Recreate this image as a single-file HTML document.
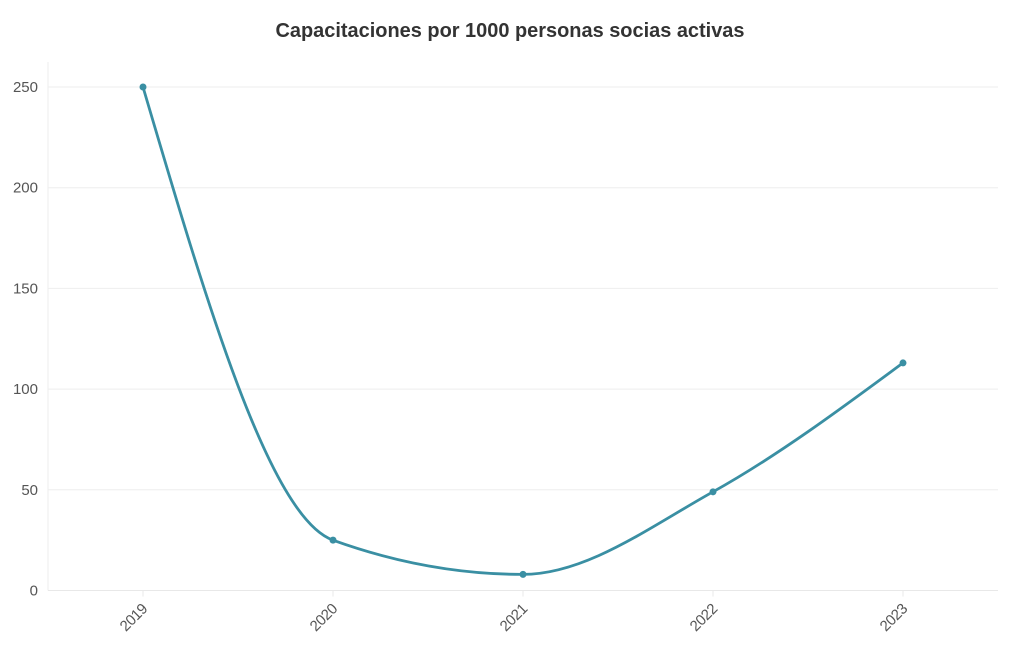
<!DOCTYPE html>
<html lang="es">
<head>
<meta charset="utf-8">
<title>Capacitaciones por 1000 personas socias activas</title>
<style>
html,body{margin:0;padding:0;background:#fff;}
#chart{display:block;width:1020px;height:650px;font-family:"Liberation Sans",sans-serif;}
</style>
</head>
<body>
<svg id="chart" width="1020" height="650" viewBox="0 0 1020 650" xmlns="http://www.w3.org/2000/svg">
<rect x="0" y="0" width="1020" height="650" fill="#ffffff"/>
<text x="510" y="37" text-anchor="middle" font-size="20" font-weight="700" fill="#333333" textLength="469" lengthAdjust="spacingAndGlyphs">Capacitaciones por 1000 personas socias activas</text>
<g id="grid"></g>
<g id="axes"></g>
<g id="series"></g>
</svg>
<script>
const categories = ['2019', '2020', '2021', '2022', '2023'];
const seriesValues = [250, 25, 8, 49, 113];
const yTickLabels = [0, 50, 100, 150, 200, 250];
const yMin = 0;
const yMax = 250;

const NS = 'http://www.w3.org/2000/svg';
const plot = { left: 48, right: 998, top: 87, bottom: 590.5 };
const COLOR = '#3a8fa3';

function xScale(i) {
  const band = (plot.right - plot.left) / categories.length;
  return plot.left + band * (i + 0.5);
}
function yScale(v) {
  return plot.bottom - (v - yMin) / (yMax - yMin) * (plot.bottom - plot.top);
}
function make(tag, attrs, parent) {
  const el = document.createElementNS(NS, tag);
  Object.keys(attrs).forEach(function (k) { el.setAttribute(k, attrs[k]); });
  parent.appendChild(el);
  return el;
}
/* Monotone-X cubic interpolation: tangents flatten at local extrema */
function monotonePath(pts) {
  const n = pts.length;
  const secants = [];
  for (let i = 0; i < n - 1; i++) {
    secants.push((pts[i + 1][1] - pts[i][1]) / (pts[i + 1][0] - pts[i][0]));
  }
  const tangents = new Array(n).fill(0);
  for (let i = 1; i < n - 1; i++) {
    const s0 = secants[i - 1];
    const s1 = secants[i];
    const h0 = pts[i][0] - pts[i - 1][0];
    const h1 = pts[i + 1][0] - pts[i][0];
    const p = (s0 * h1 + s1 * h0) / (h0 + h1);
    const sign = (Math.sign(s0) + Math.sign(s1));
    tangents[i] = sign * Math.min(Math.abs(s0), Math.abs(s1), 0.5 * Math.abs(p));
  }
  tangents[0] = (3 * secants[0] - tangents[1]) / 2;
  tangents[n - 1] = (3 * secants[n - 2] - tangents[n - 2]) / 2;
  let d = 'M' + pts[0][0] + ' ' + pts[0][1];
  for (let i = 0; i < n - 1; i++) {
    const dx = (pts[i + 1][0] - pts[i][0]) / 3;
    d += 'C' + (pts[i][0] + dx) + ' ' + (pts[i][1] + dx * tangents[i]) + ' ' +
      (pts[i + 1][0] - dx) + ' ' + (pts[i + 1][1] - dx * tangents[i + 1]) + ' ' +
      pts[i + 1][0] + ' ' + pts[i + 1][1];
  }
  return d;
}

const gridG = document.getElementById('grid');
const axesG = document.getElementById('axes');
const seriesG = document.getElementById('series');

yTickLabels.forEach(function (t) {
  const y = yScale(t);
  if (t !== yMin) {
    const line = make('line', { x1: plot.left, x2: plot.right, y1: y, y2: y, stroke: '#eeeeee', 'stroke-width': 1 }, gridG);
    
    
  }
  const label = make('text', { x: 38, y: y + 5, 'text-anchor': 'end', 'font-size': 15, fill: '#555555' }, axesG);
  label.textContent = String(t);
  
  
});

const yAxisLine = make('line', { x1: plot.left, x2: plot.left, y1: 62, y2: plot.bottom, stroke: '#eeeeee', 'stroke-width': 1 }, axesG);



const xAxisLine = make('line', { x1: plot.left, x2: plot.right, y1: plot.bottom, y2: plot.bottom, stroke: '#e8e8e8', 'stroke-width': 1 }, axesG);



categories.forEach(function (c, i) {
  const x = xScale(i);
  const tick = make('line', { x1: x, x2: x, y1: plot.bottom, y2: plot.bottom + 6, stroke: '#e8e8e8', 'stroke-width': 1 }, axesG);
  
  
  const label = make('text', {
    'text-anchor': 'end',
    'font-size': 15,
    fill: '#555555',
    textLength: 32,
    transform: 'translate(' + (x + 5.5) + ' 609.5) rotate(-45)'
  }, axesG);
  label.textContent = c;
  
  
});

const pts = seriesValues.map(function (v, i) { return [xScale(i), yScale(v)]; });
const path = make('path', { d: monotonePath(pts), fill: 'none', stroke: COLOR, 'stroke-width': 2.8, 'stroke-linejoin': 'round' }, seriesG);



pts.forEach(function (p) {
  const dot = make('circle', { cx: p[0], cy: p[1], r: 3.5, fill: COLOR }, seriesG);
  
  
});
</script>
</body>
</html>
